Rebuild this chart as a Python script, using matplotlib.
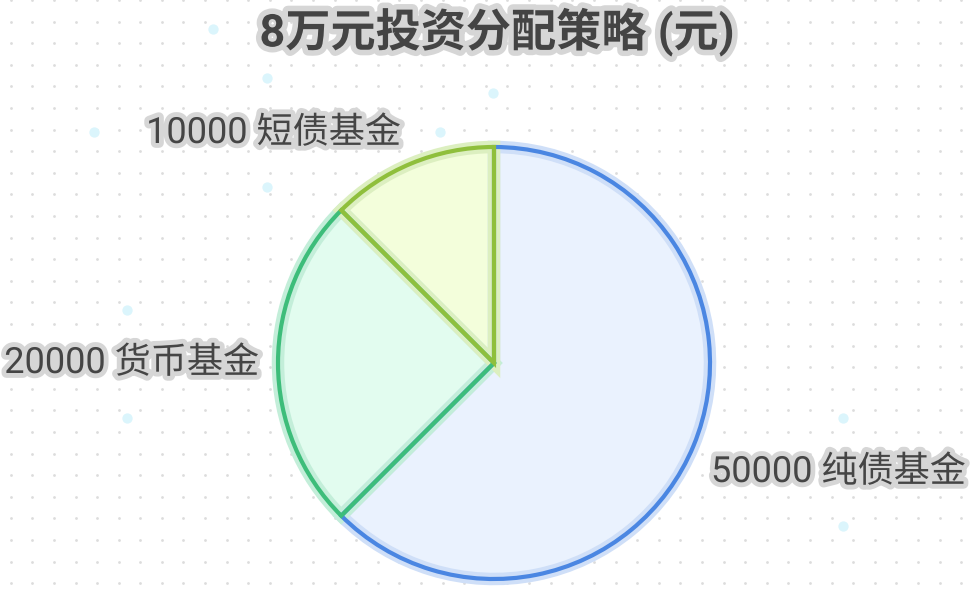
import matplotlib

matplotlib.use("Agg")
import matplotlib.pyplot as plt
import matplotlib.patheffects as pe
import numpy as np

plt.rcParams["font.family"] = ["Roboto", "Noto Sans CJK SC", "DejaVu Sans"]

TITLE = "8万元投资分配策略 (元)"
categories = ["纯债基金", "货币基金", "短债基金"]
amounts = [50000, 20000, 10000]

EDGE = ["#4a86e2", "#3dbd7a", "#8fbf3c"]
FILL = ["#eaf2fe", "#e2fcef", "#f3fedb"]
HALO = ["#cfdff8", "#c3eed9", "#dcefc0"]
TEXT = "#454545"
HALO_TXT = "#d6d6d6"

W, H = 976, 593
CX, CY, R = 494, H - 363, 216

# label anchors in pixel coords (image y down), one per slice
label_anchor = [(711, 472, "left"), (259, 363, "right"), (401, 133, "right")]

# background decoration (pixel coords, image y down)
bubbles = [(213, 29), (267, 78), (94, 132), (440, 132), (493, 93), (267, 187),
           (127, 310), (299, 363), (127, 418), (843, 418), (670, 472), (843, 526)]

fig = plt.figure(figsize=(W / 100, H / 100), dpi=100)
ax = fig.add_axes([0, 0, 1, 1])

# dotted grid
gx = np.arange(10.7, W, 21.6)
gy = np.arange(0.0, H + 1, 21.6)
GX, GY = np.meshgrid(gx, gy)
ax.scatter(GX.ravel(), H - GY.ravel(), s=4, color="#dcdcdc", lw=0, zorder=0)
bx, by = zip(*bubbles)
ax.scatter(bx, [H - y for y in by], s=55, color="#dbf5fc", lw=0, zorder=0)

# fill, soft halo, then crisp edges
pie_kw = dict(center=(CX, CY), radius=R, startangle=90, counterclock=False, frame=True)
ax.pie(amounts, colors=FILL, wedgeprops=dict(linewidth=0, edgecolor="none"), **pie_kw)
halo_w, _ = ax.pie(amounts, colors=FILL, wedgeprops=dict(linewidth=9), **pie_kw)
for w, h in zip(halo_w, HALO):
    w.set_edgecolor(h)
    w.set_facecolor("none")
wedges, _ = ax.pie(amounts, colors=FILL, wedgeprops=dict(linewidth=3), **pie_kw)
for w, e in zip(wedges, EDGE):
    w.set_edgecolor(e)
    w.set_facecolor("none")
    w.set_joinstyle("miter")

ax.set_xlim(0, W)
ax.set_ylim(0, H)
ax.set_aspect("equal")
ax.axis("off")

stroke = [pe.withStroke(linewidth=7, foreground=HALO_TXT)]
for (x, y, ha), name, val in zip(label_anchor, categories, amounts):
    ax.text(x, H - y, f"{val} {name}", ha=ha, va="center", fontsize=26,
            color=TEXT, path_effects=stroke, zorder=5)

ax.text(497, H - 32, TITLE, ha="center", va="center", fontsize=32.5,
        fontweight="bold", color="#444444",
        path_effects=[pe.withStroke(linewidth=8, foreground=HALO_TXT)], zorder=5)

fig.savefig("out.png", dpi=100, facecolor="white")
